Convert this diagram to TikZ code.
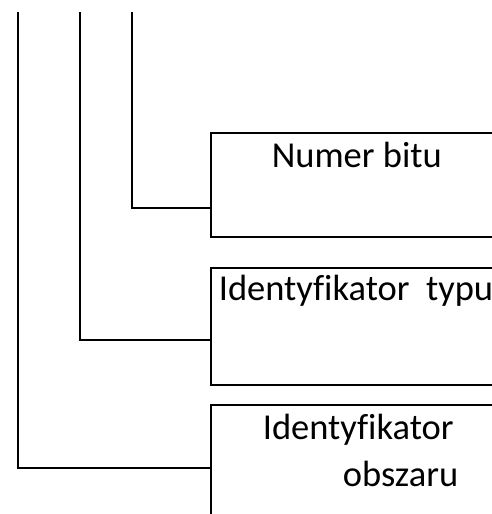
\documentclass[tikz,border=0pt]{standalone}
\usepackage{fontspec}
\setmainfont{Carlito}[Ligatures={NoCommon}]
\begin{document}
\begin{tikzpicture}[x=1pt,y=-1pt,
  line width=1.6pt,
  box/.style={draw, line width=1.6pt, minimum width=360pt, anchor=north west, inner sep=0pt},
  lbl/.style={anchor=base west, inner sep=0pt, font=\fontsize{36.5}{44}\selectfont},
  conn/.style={draw, line width=1.6pt}]
\useasboundingbox (0,0) rectangle (492,514);
\clip (0,0) rectangle (492,514);
% boxes
\node[box, minimum height=104pt] (b1) at (210,132) {};
\node[box, minimum height=117pt] (b2) at (210,267) {};
\node[box, minimum height=140pt] (b3) at (210,404) {};
% texts
\node[lbl] (t1) at (271,167) {Numer bitu};
\node[lbl] (t2) at (218,300) {Identyfikator\ \ typu};
\node[lbl] (t3a) at (262,439) {Identyfikator};
\node[lbl] (t3b) at (342,486) {obszaru};
% connector ends
\coordinate (s1) at (132,12);
\coordinate (s2) at (80,12);
\coordinate (s3) at (18,12);
\coordinate (j1) at (b1.north west |- 0,208);
\coordinate (j2) at (b2.north west |- 0,340);
\coordinate (j3) at (b3.north west |- 0,468);
\draw[conn] (s1) |- (j1);
\draw[conn] (s2) |- (j2);
\draw[conn] (s3) |- (j3);
\end{tikzpicture}
\end{document}
